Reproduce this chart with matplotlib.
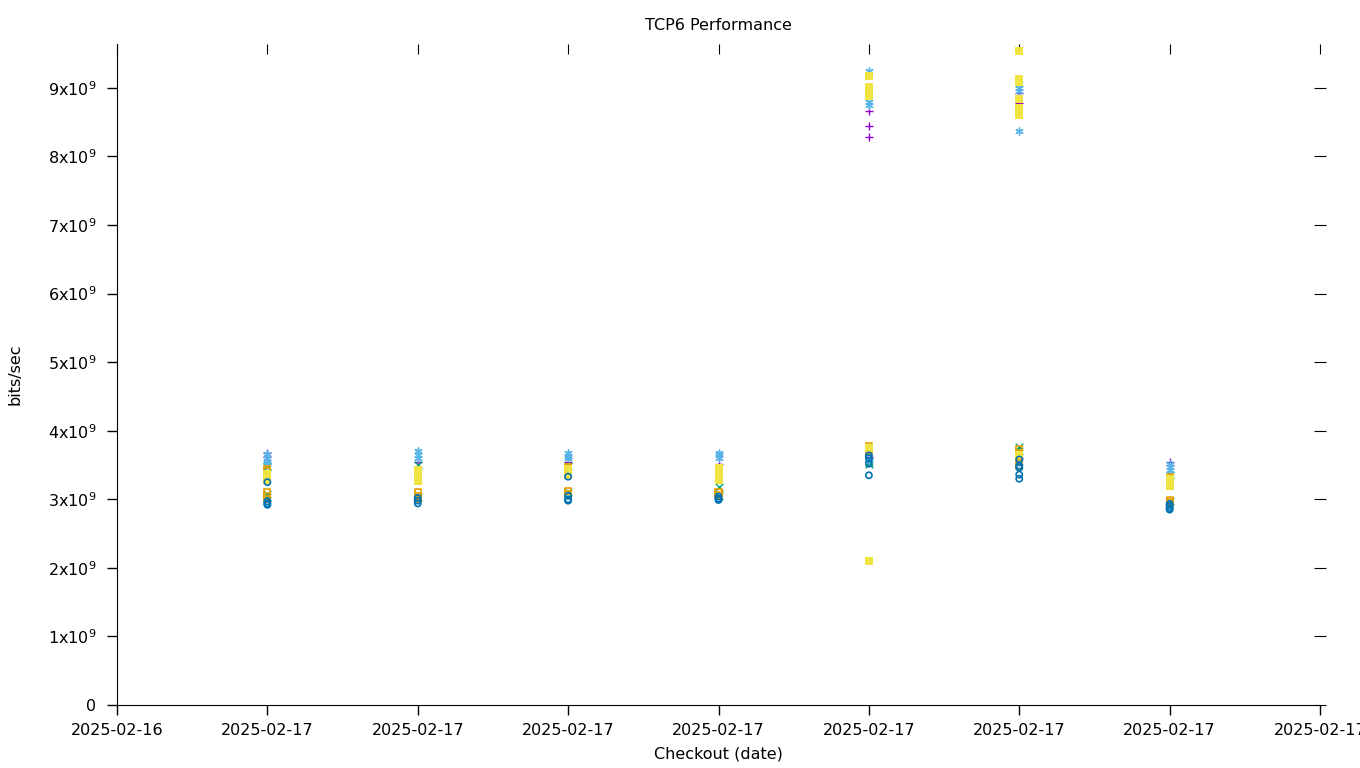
import matplotlib
matplotlib.use("Agg")
import matplotlib.pyplot as plt
from matplotlib.ticker import FixedLocator, FuncFormatter

# Checkout positions (1..7) and tick labels
checkouts = [1, 2, 3, 4, 5, 6, 7]
xtick_labels = ["2025-02-16"] + ["2025-02-17"] * 8

# Values in units of 1e9 bits/sec, one list per checkout
purple_plus = [[3.68, 3.62], [3.55], [3.55], [3.52],
               [8.67, 8.45, 8.29, 3.62], [8.92, 8.78, 3.60], [3.55, 3.50]]
green_x = [[3.49, 3.47, 3.07, 3.03], [3.50, 3.03], [3.49, 3.10], [3.18, 3.05],
           [3.55, 3.52], [3.76, 3.70], [3.36, 2.97]]
blue_star = [[3.66, 3.60, 3.55, 3.52], [3.70, 3.65, 3.60], [3.68, 3.63, 3.60],
             [3.68, 3.64, 3.60], [9.24, 8.79, 8.75, 3.58],
             [9.05, 9.00, 8.95, 8.37, 3.55], [3.52, 3.47, 3.42, 3.37]]
orange_sq = [[3.44, 3.41, 3.10, 3.05, 3.00], [3.10, 3.05, 3.00], [3.47, 3.12, 3.08],
             [3.10, 3.06], [3.78, 3.74, 3.70], [3.73, 3.68, 3.62, 3.55, 3.48],
             [3.32, 2.99, 2.96]]
yellow_fsq = [[3.37, 3.32, 3.28], [3.43, 3.36, 3.30, 3.27], [3.44, 3.38, 3.35],
              [3.45, 3.38, 3.32, 3.28], [9.18, 9.02, 8.95, 8.88, 3.75, 2.10],
              [9.54, 9.13, 9.08, 8.84, 8.70, 8.60, 3.65], [3.30, 3.24, 3.20]]
blue_circ = [[3.25, 2.97, 2.94, 2.92], [3.02, 2.98, 2.94], [3.33, 3.05, 3.00, 2.98],
             [3.04, 3.01, 2.99], [3.64, 3.60, 3.52, 3.35],
             [3.58, 3.49, 3.46, 3.36, 3.30], [2.93, 2.90, 2.87, 2.85]]

series = [
    (purple_plus, "#9400D3", "+", True),
    (green_x, "#009E73", "x", True),
    (blue_star, "#56B4E9", "*", True),
    (orange_sq, "#E69F00", "s", False),
    (yellow_fsq, "#F0E442", "s", True),
    (blue_circ, "#0072B2", "o", False),
]

plt.rcParams['font.family'] = ['DejaVu Sans']
fig = plt.figure(figsize=(13.6, 7.68), dpi=100)
ax = fig.add_axes([117 / 1360, 1 - 705 / 768, (1320 - 117) / 1360, (705 - 44) / 768])

for data, color, marker, filled in series:
    xs, ys = [], []
    for cx, vals in zip(checkouts, data):
        for v in vals:
            xs.append(cx)
            ys.append(v * 1e9)
    if marker == "*":
        ax.scatter(xs, ys, marker=(6, 2, 0), s=28, color=color, linewidths=1.0, zorder=3)
    elif filled and marker == "s":
        ax.scatter(xs, ys, marker="s", s=27, color=color, linewidths=0, zorder=3)
    elif filled:
        ax.scatter(xs, ys, marker=marker, s=30, color=color, linewidths=1.0, zorder=3)
    else:
        ax.scatter(xs, ys, marker=marker, s=20, facecolors="none", edgecolors=color,
                   linewidths=1.2, zorder=3)

ax.set_xlim(0, 8)
ax.set_ylim(0, 9.64e9)
ax.xaxis.set_major_locator(FixedLocator(list(range(0, 9))))
ax.set_xticklabels(xtick_labels)
ax.yaxis.set_major_locator(FixedLocator([i * 1e9 for i in range(10)]))


def yfmt(v, pos):
    n = int(round(v / 1e9))
    if n == 0:
        return "0"
    return "%dx10$^{9}$" % n


ax.yaxis.set_major_formatter(FuncFormatter(yfmt))

for s in ["top", "right"]:
    ax.spines[s].set_visible(False)
ax.tick_params(axis="both", direction="out", length=7, width=1, labelsize=11.5)
ax.tick_params(axis="x", pad=6)
ax.tick_params(axis="y", pad=8)

# mirrored ticks on top and right (no border line)
secx = ax.secondary_xaxis("top")
secx.xaxis.set_major_locator(FixedLocator(list(range(0, 9))))
secx.tick_params(direction="in", length=7, labeltop=False)
secx.spines["top"].set_visible(False)
secy = ax.secondary_yaxis("right")
secy.yaxis.set_major_locator(FixedLocator([i * 1e9 for i in range(10)]))
secy.tick_params(direction="inout", length=8, labelright=False)
secy.spines["right"].set_visible(False)

ax.set_title("TCP6 Performance", fontsize=11.5, pad=10)
ax.set_xlabel("Checkout (date)", fontsize=11.5, labelpad=6)
ax.set_ylabel("bits/sec", fontsize=11.5, labelpad=18)

fig.savefig("out.png", dpi=100)
